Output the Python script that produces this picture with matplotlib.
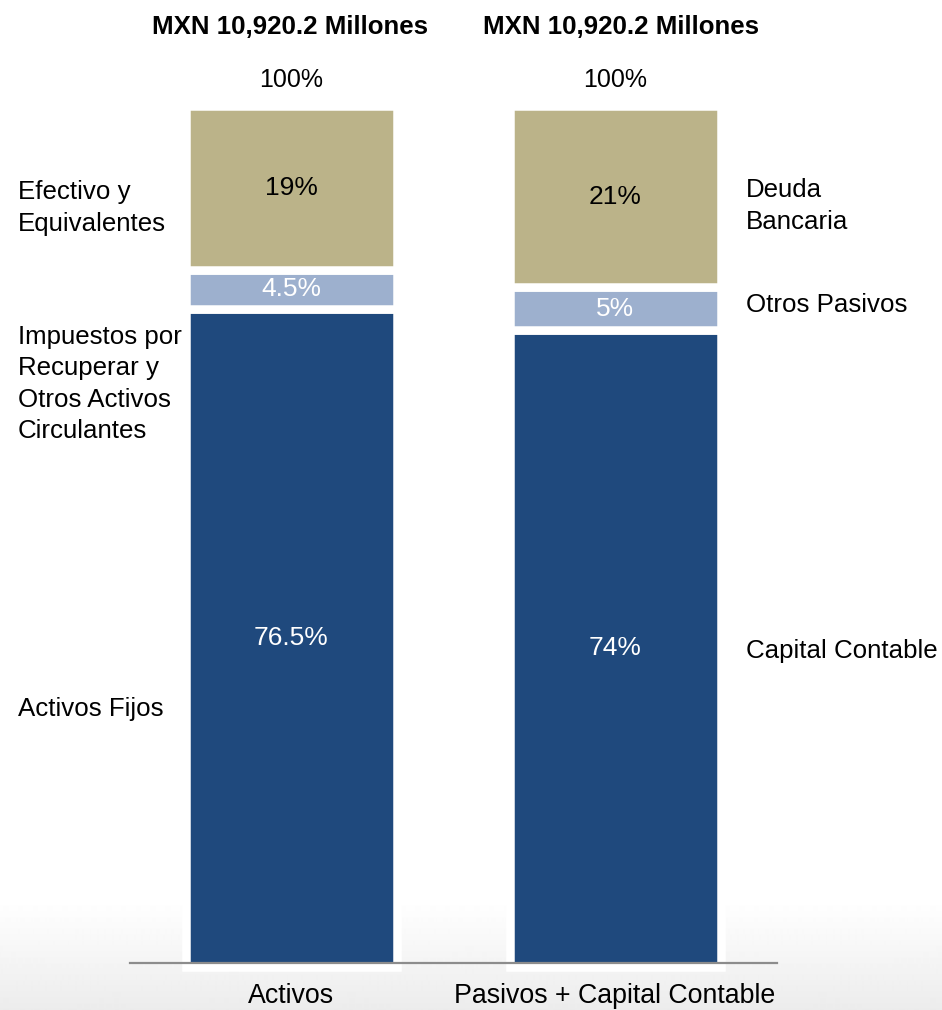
import numpy as np
import matplotlib
matplotlib.use("Agg")
import matplotlib.pyplot as plt
from matplotlib.lines import Line2D

# ---- data ----
categories = ["Activos", "Pasivos + Capital Contable"]
base_vals = [76.5, 74.0]     # Activos Fijos / Capital Contable
mid_vals = [4.5, 5.0]        # Impuestos... / Otros Pasivos
top_vals = [19.0, 21.0]      # Efectivo / Deuda Bancaria
base_labels = ["76.5%", "74%"]
mid_labels = ["4.5%", "5%"]
top_labels = ["19%", "21%"]
totals = ["100%", "100%"]
titles = ["MXN 10,920.2 Millones", "MXN 10,920.2 Millones"]
left_names = ["Activos Fijos", "Impuestos por\nRecuperar y\nOtros Activos\nCirculantes", "Efectivo y\nEquivalentes"]
right_names = ["Capital Contable", "Otros Pasivos", "Deuda\nBancaria"]

navy = "#1F497D"
light = "#9DB0CE"
gold = "#BBB389"

W, H = 942, 1010
fig = plt.figure(figsize=(W / 100, H / 100), dpi=100)

# background gradient at bottom
bg = fig.add_axes([0, 0, 1, 1])
bg.set_axis_off()
grad = np.ones((H, 1))
ys = np.arange(H)
start = 900
grad[ys > start, 0] = 1 - 0.075 * ((ys[ys > start] - start) / (H - start))
bg.imshow(np.repeat(grad, 2, axis=1), cmap="gray", vmin=0, vmax=1, aspect="auto",
          extent=[0, 1, 0, 1], interpolation="bilinear")
bg.set_xlim(0, 1)
bg.set_ylim(0, 1)

ax = fig.add_axes([0, 0, 1, 1])
ax.set_axis_off()
ax.patch.set_alpha(0)

px_per_unit_y = 8.6
y0_px = 966.5
px_per_unit_x = 324.0
x0_px = 291.0
ax.set_xlim(-x0_px / px_per_unit_x, (W - x0_px) / px_per_unit_x)
ax.set_ylim((y0_px - H) / px_per_unit_y, y0_px / px_per_unit_y)

def py(pix):
    return (y0_px - pix) / px_per_unit_y

x = np.array([0.0, 1.0])
bw = 211 / px_per_unit_x
lw = 8.5 * 0.72
base = np.array(base_vals)
mid = np.array(mid_vals)
top = np.array(top_vals)
ax.bar(x, base, width=bw, color=navy, edgecolor="white", linewidth=lw)
ax.bar(x, mid, bottom=base, width=bw, color=light, edgecolor="white", linewidth=lw)
ax.bar(x, top, bottom=base + mid, width=bw, color=gold, edgecolor="white", linewidth=lw)

font = "Liberation Sans"
fs_in = 19.0
fs_side = 18.6
fs_tot = 18.0
fs_cat = 19.3
for i in range(2):
    ax.text(x[i], base[i] / 2, base_labels[i], ha="center", va="center", color="white", fontsize=fs_in, family=font)
    ax.text(x[i], base[i] + mid[i] / 2, mid_labels[i], ha="center", va="center", color="white", fontsize=fs_in, family=font)
    ax.text(x[i], base[i] + mid[i] + top[i] / 2, top_labels[i], ha="center", va="center", color="black", fontsize=fs_in, family=font)
    ax.text(x[i], py(80), totals[i], ha="center", va="center", color="black", fontsize=fs_tot, family=font)
    ax.text(x[i], py(996), categories[i], ha="center", va="center", color="black", fontsize=fs_cat, family=font)

ax.text((290 - x0_px) / px_per_unit_x, py(27), titles[0], ha="center", va="center", fontsize=18.6, fontweight="bold", family=font)
ax.text((621 - x0_px) / px_per_unit_x, py(27), titles[1], ha="center", va="center", fontsize=18.6, fontweight="bold", family=font)

lx = (18 - x0_px) / px_per_unit_x
rx = (746 - x0_px) / px_per_unit_x
left_y = [709, 384, 208]
right_y = [651, 305, 206]
for name, yy in zip(left_names, left_y):
    ax.text(lx, py(yy), name, ha="left", va="center", fontsize=fs_side, family=font, linespacing=1.4)
for name, yy in zip(right_names, right_y):
    ax.text(rx, py(yy), name, ha="left", va="center", fontsize=fs_side, family=font, linespacing=1.4)

# baseline
fig.add_artist(Line2D([130 / W, 777 / W], [1 - 962.5 / H, 1 - 962.5 / H], color="#8c8c8c", linewidth=1.6))

fig.savefig("out.png", dpi=100)
